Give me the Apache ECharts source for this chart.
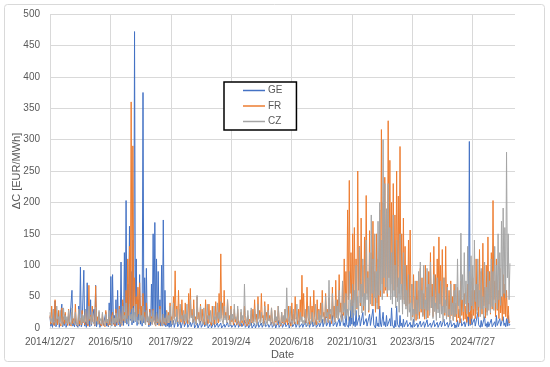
<!DOCTYPE html>
<html>
<head>
<meta charset="utf-8">
<script src="https://cdn.jsdelivr.net/npm/echarts@6/dist/echarts.min.js"></script>
<style>
html,body{margin:0;padding:0;background:#fff;}
#chart{width:550px;height:367px;}
</style>
</head>
<body>
<div id="chart"></div>
<script>
// Start date of the series and sampling step (days)
const START_DATE = [2014, 12, 27];
const STEP_DAYS = 14;
const AXIS_END_DAY = 3850;
const TICK_DAYS = 500;

const seriesNames = ['GE', 'FR', 'CZ'];

// ΔC [EUR/MWh]: peak value read in each STEP_DAYS window
const GE = [
  18, 8, 30, 43, 6, 25, 4, 38, 10, 22,
  5, 20, 3, 60, 8, 15, 2, 35, 97, 6,
  92, 10, 72, 25, 45, 5, 30, 68, 8, 20,
  5, 15, 3, 25, 8, 40, 82, 85, 20, 45,
  60, 15, 105, 40, 120, 203, 70, 162, 90, 140,
  472, 110, 45, 85, 30, 375, 80, 95, 15, 30,
  70, 150, 168, 110, 90, 45, 100, 172, 60, 15,
  8, 20, 3, 12, 2, 18, 5, 10, 2, 15,
  4, 12, 2, 9, 3, 14, 1, 8, 3, 11,
  2, 9, 4, 12, 1, 7, 3, 10, 2, 8,
  3, 8, 1, 6, 2, 9, 1, 5, 3, 7,
  2, 10, 1, 8, 3, 12, 2, 6, 1, 9,
  3, 7, 1, 10, 2, 8, 4, 11, 1, 6,
  2, 9, 3, 7, 1, 12, 2, 8, 3, 10,
  1, 8, 3, 14, 2, 9, 4, 11, 2, 7,
  3, 12, 1, 9, 4, 15, 2, 10, 3, 8,
  2, 14, 4, 18, 3, 12, 5, 20, 2, 10,
  5, 15, 3, 22, 8, 30, 4, 18, 40, 57,
  10, 28, 5, 20, 3, 25, 8, 15, 4, 22,
  6, 30, 3, 18, 8, 35, 2, 25, 10, 20,
  5, 15, 32, 4, 12, 35, 3, 20, 8, 14,
  4, 12, 2, 9, 5, 14, 2, 8, 3, 11,
  2, 10, 4, 13, 1, 8, 3, 12, 2, 9,
  3, 11, 2, 14, 4, 9, 1, 12, 3, 8,
  5, 12, 3, 15, 6, 10, 2, 18, 297, 22,
  8, 15, 4, 25, 6, 12, 3, 18, 7, 10,
  5, 14, 3, 10, 20, 6, 15, 4, 18, 8,
  15, 20, 6
];
// trough value read in the second half of each window
const GE_LOW = [
  3, 1, 4, 2, 5, 1, 3, 2, 4, 1,
  2, 4, 1, 3, 2, 5, 1, 3, 2, 4,
  3, 1, 5, 2, 4, 1, 3, 2, 5, 1,
  2, 4, 1, 3, 2, 5, 3, 6, 2, 4,
  5, 2, 8, 4, 10, 6, 3, 12, 5, 8,
  10, 4, 12, 6, 3, 8, 5, 10, 2, 4,
  6, 12, 8, 5, 10, 3, 7, 4, 2, 3,
  1, 2, 0, 1, 0, 2, 1, 0, 1, 2,
  0, 1, 0, 2, 1, 0, 1, 0, 2, 1,
  0, 2, 1, 0, 1, 0, 2, 1, 0, 1,
  1, 0, 0, 1, 0, 2, 0, 1, 0, 1,
  0, 1, 0, 2, 0, 1, 0, 0, 1, 0,
  1, 0, 2, 1, 0, 1, 0, 2, 0, 1,
  0, 1, 0, 0, 2, 1, 0, 1, 0, 2,
  1, 0, 1, 2, 0, 1, 0, 1, 0, 1,
  0, 2, 0, 1, 1, 2, 0, 1, 0, 2,
  1, 2, 0, 3, 1, 2, 0, 3, 1, 2,
  1, 3, 0, 4, 2, 5, 1, 3, 6, 4,
  2, 4, 1, 3, 0, 5, 2, 3, 1, 4,
  1, 5, 0, 3, 2, 6, 0, 4, 2, 3,
  1, 3, 5, 0, 2, 6, 1, 3, 1, 2,
  0, 2, 0, 1, 1, 2, 0, 1, 0, 2,
  0, 1, 1, 2, 0, 1, 0, 2, 0, 1,
  1, 2, 0, 3, 1, 1, 0, 2, 1, 0,
  1, 2, 0, 3, 1, 2, 0, 3, 4, 5,
  2, 3, 1, 5, 1, 2, 0, 3, 1, 2,
  1, 2, 0, 2, 4, 1, 3, 1, 4, 2,
  3, 4, 1
];
const FR = [
  20, 35, 12, 45, 15, 28, 10, 32, 18, 25,
  12, 30, 8, 25, 15, 38, 10, 22, 14, 28,
  15, 30, 10, 68, 20, 35, 12, 67, 18, 25,
  10, 22, 6, 28, 12, 18, 5, 25, 10, 30,
  15, 35, 12, 45, 25, 60, 110, 130, 360, 290,
  80, 50, 65, 72, 35, 55, 25, 40, 15, 30,
  18, 30, 10, 25, 12, 35, 8, 22, 15, 28,
  25, 40, 18, 50, 91, 35, 60, 30, 45, 20,
  40, 22, 55, 63, 30, 45, 18, 50, 25, 38,
  30, 15, 45, 20, 38, 12, 35, 18, 42, 25,
  55, 118, 40, 60, 25, 45, 20, 35, 15, 30,
  15, 30, 10, 25, 12, 35, 8, 20, 14, 28,
  30, 45, 22, 50, 28, 55, 20, 42, 25, 38,
  20, 32, 12, 28, 15, 35, 10, 25, 18, 30,
  15, 35, 10, 40, 22, 50, 18, 30, 45, 84,
  55, 25, 65, 20, 50, 35, 60, 18, 45, 30,
  40, 60, 25, 55, 30, 48, 22, 65, 35, 76,
  45, 85, 40, 70, 110, 90, 188, 235, 120, 150,
  160, 110, 250, 130, 175, 100, 145, 211, 90, 155,
  120, 170, 90, 150, 110, 188, 316, 200, 240, 180,
  330, 267, 200, 230, 180, 250, 210, 289, 150, 175,
  130, 100, 140, 156, 70, 85, 50, 75, 60, 95,
  80, 55, 100, 65, 90, 120, 70, 130, 85, 110,
  145, 100, 125, 80, 130, 70, 60, 75, 50, 70,
  40, 65, 30, 75, 45, 55, 35, 70, 25, 60,
  80, 60, 110, 70, 125, 90, 135, 65, 100, 145,
  90, 120, 203, 75, 110, 60, 95, 50, 85, 70,
  60, 35, 10
];
const FR_LOW = [
  6, 10, 4, 8, 5, 9, 3, 7, 6, 8,
  4, 8, 3, 7, 5, 10, 3, 6, 5, 8,
  5, 9, 3, 12, 6, 10, 4, 11, 6, 7,
  3, 6, 2, 8, 4, 5, 2, 7, 3, 9,
  5, 10, 4, 12, 8, 15, 20, 25, 30, 35,
  25, 18, 22, 20, 12, 18, 9, 14, 5, 10,
  6, 10, 3, 8, 4, 10, 3, 7, 5, 9,
  8, 12, 6, 15, 18, 10, 14, 9, 12, 6,
  12, 7, 15, 18, 9, 13, 6, 14, 8, 11,
  9, 5, 12, 7, 11, 4, 10, 6, 12, 8,
  15, 20, 12, 16, 8, 13, 6, 10, 5, 9,
  5, 9, 3, 8, 4, 10, 3, 6, 5, 8,
  10, 14, 8, 15, 9, 16, 7, 13, 8, 12,
  6, 10, 4, 9, 5, 11, 3, 8, 6, 9,
  5, 10, 3, 12, 7, 14, 6, 9, 13, 18,
  16, 8, 18, 6, 14, 10, 17, 5, 13, 9,
  12, 18, 8, 16, 9, 14, 7, 18, 10, 20,
  14, 25, 12, 20, 30, 25, 45, 55, 35, 40,
  45, 30, 60, 35, 50, 28, 40, 55, 25, 42,
  35, 48, 25, 40, 30, 50, 70, 55, 60, 50,
  80, 70, 55, 60, 48, 65, 55, 70, 40, 45,
  35, 28, 38, 40, 18, 22, 12, 20, 15, 25,
  20, 14, 28, 16, 24, 32, 18, 35, 22, 30,
  38, 26, 34, 20, 35, 18, 15, 20, 12, 18,
  10, 16, 8, 20, 12, 14, 9, 18, 6, 15,
  20, 15, 28, 18, 32, 22, 35, 16, 25, 38,
  22, 30, 45, 18, 28, 15, 24, 12, 22, 18,
  15, 8, 3
];
const CZ = [
  25, 15, 30, 12, 35, 18, 28, 10, 32, 20,
  18, 28, 12, 32, 15, 25, 10, 30, 16, 22,
  20, 30, 14, 35, 18, 26, 12, 33, 15, 28,
  15, 25, 10, 22, 14, 28, 9, 20, 16, 24,
  18, 30, 12, 35, 20, 40, 15, 38, 22, 32,
  25, 38, 15, 30, 20, 35, 12, 28, 18, 25,
  15, 28, 10, 25, 14, 30, 9, 22, 16, 26,
  20, 35, 12, 40, 18, 30, 14, 38, 20, 28,
  22, 38, 15, 45, 20, 30, 14, 52, 18, 35,
  15, 32, 10, 38, 20, 28, 12, 35, 18, 40,
  25, 42, 15, 35, 20, 45, 12, 30, 22, 38,
  18, 35, 12, 30, 20, 70, 15, 28, 10, 32,
  14, 30, 10, 38, 16, 25, 8, 35, 12, 28,
  15, 32, 10, 28, 18, 35, 12, 25, 20, 30,
  64, 20, 35, 12, 30, 15, 38, 10, 25, 18,
  12, 30, 8, 35, 15, 25, 10, 38, 14, 28,
  20, 40, 15, 50, 25, 76, 30, 55, 22, 45,
  35, 60, 25, 75, 40, 55, 30, 90, 45, 70,
  60, 100, 50, 129, 70, 110, 55, 140, 80, 120,
  180, 110, 150, 90, 170, 200, 140, 300, 230, 190,
  230, 160, 120, 180, 100, 140, 80, 150, 70, 120,
  100, 60, 85, 40, 70, 30, 75, 45, 90, 105,
  60, 100, 45, 95, 70, 105, 50, 85, 40, 80,
  55, 75, 35, 80, 45, 65, 30, 70, 40, 60,
  70, 110, 60, 151, 85, 120, 75, 130, 90, 115,
  100, 140, 70, 110, 60, 95, 50, 105, 65, 90,
  75, 110, 90, 130, 100, 150, 120, 170, 191, 160,
  280, 150, 103
];
const CZ_LOW = [
  10, 6, 12, 5, 14, 8, 11, 4, 13, 8,
  7, 11, 5, 13, 6, 10, 4, 12, 7, 9,
  8, 12, 6, 14, 7, 10, 5, 13, 6, 11,
  6, 10, 4, 9, 6, 11, 4, 8, 7, 10,
  7, 12, 5, 14, 8, 15, 6, 14, 9, 12,
  10, 14, 6, 12, 8, 13, 5, 11, 7, 10,
  6, 11, 4, 10, 6, 12, 4, 9, 7, 10,
  8, 13, 5, 15, 7, 12, 6, 14, 8, 11,
  9, 14, 6, 16, 8, 12, 6, 18, 7, 13,
  6, 12, 4, 14, 8, 11, 5, 13, 7, 15,
  10, 15, 6, 13, 8, 16, 5, 12, 9, 14,
  7, 13, 5, 12, 8, 20, 6, 11, 4, 12,
  6, 12, 4, 14, 7, 10, 3, 13, 5, 11,
  6, 12, 4, 11, 7, 13, 5, 10, 8, 12,
  18, 8, 13, 5, 12, 6, 14, 4, 10, 7,
  5, 12, 3, 13, 6, 10, 4, 14, 6, 11,
  8, 15, 6, 18, 10, 22, 12, 20, 9, 16,
  13, 22, 10, 25, 15, 20, 12, 28, 16, 24,
  20, 32, 18, 40, 24, 35, 20, 45, 28, 38,
  55, 35, 48, 30, 52, 60, 45, 80, 65, 55,
  60, 45, 38, 50, 32, 42, 25, 45, 22, 38,
  30, 18, 25, 12, 20, 10, 22, 14, 26, 30,
  18, 30, 14, 28, 20, 32, 15, 26, 12, 24,
  16, 22, 10, 24, 14, 20, 9, 21, 12, 18,
  22, 35, 18, 45, 26, 38, 22, 40, 28, 35,
  30, 42, 22, 34, 18, 30, 15, 32, 20, 28,
  24, 34, 28, 40, 30, 45, 36, 50, 55, 48,
  80, 45, 30
];

const colors = ['#4472C4', '#ED7D31', '#A5A5A5'];
const FONT = 'Liberation Sans, Arial, sans-serif';
const TEXT = '#595959';
const GRID = '#d9d9d9';

function dayLabel(v) {
  const t = Date.UTC(START_DATE[0], START_DATE[1] - 1, START_DATE[2]) + v * 86400000;
  const d = new Date(t);
  return d.getUTCFullYear() + '/' + (d.getUTCMonth() + 1) + '/' + d.getUTCDate();
}
// each window: peak at its start, trough at its middle
function toXY(peaks, lows) {
  const out = [];
  peaks.forEach((v, i) => {
    out.push([i * STEP_DAYS, v]);
    if (i < lows.length && i < peaks.length - 1) out.push([i * STEP_DAYS + STEP_DAYS / 2, lows[i]]);
  });
  return out;
}

const chart = echarts.init(document.getElementById('chart'), null, {renderer: 'canvas'});
const peakData = [GE, FR, CZ];
const lowData = [GE_LOW, FR_LOW, CZ_LOW];
const nSplit = Math.floor(AXIS_END_DAY / TICK_DAYS) + 1;
const splitColors = [];
for (let k = 0; k < nSplit; k++) splitColors.push(GRID);
splitColors.push('rgba(0,0,0,0)');

chart.setOption({
  animation: false,
  backgroundColor: '#fff',
  textStyle: {fontFamily: FONT},
  graphic: [{
    type: 'rect',
    shape: {x: 4.5, y: 4.5, width: 540, height: 357, r: 3},
    style: {fill: 'none', stroke: GRID, lineWidth: 1},
    silent: true, z: -10
  }],
  grid: {left: 50, right: 35, top: 14, bottom: 39, containLabel: false, outerBoundsMode: 'none'},
  legend: {
    orient: 'vertical',
    left: 224, top: 82,
    data: seriesNames,
    icon: 'rect',
    itemWidth: 22, itemHeight: 1.5, itemGap: 5.5,
    padding: [3.5, 14, 3.5, 19],
    borderColor: '#000', borderWidth: 1.5,
    backgroundColor: '#fff',
    textStyle: {color: TEXT, fontSize: 10, lineHeight: 10, fontFamily: FONT, padding: [0, 0, 0, -2]}
  },
  xAxis: {
    type: 'value',
    min: 0, max: AXIS_END_DAY, interval: TICK_DAYS,
    name: 'Date', nameLocation: 'middle', nameGap: 21, nameMoveOverlap: false,
    nameTextStyle: {color: TEXT, fontSize: 11, fontFamily: FONT},
    axisLine: {show: true, lineStyle: {color: GRID, width: 1}},
    axisTick: {show: false},
    axisLabel: {color: TEXT, fontSize: 10, fontFamily: FONT, margin: 9, showMaxLabel: false, formatter: dayLabel},
    splitLine: {show: true, lineStyle: {color: splitColors, width: 1}}
  },
  yAxis: {
    type: 'value',
    min: 0, max: 500, interval: 50,
    name: 'ΔC [EUR/MWh]', nameLocation: 'middle', nameGap: 28, nameMoveOverlap: false,
    nameTextStyle: {color: TEXT, fontSize: 11, fontFamily: FONT},
    axisLine: {show: false},
    axisTick: {show: false},
    axisLabel: {color: TEXT, fontSize: 10, fontFamily: FONT, margin: 10},
    splitLine: {show: true, lineStyle: {color: GRID, width: 1}}
  },
  series: seriesNames.map((n, k) => ({
    name: n,
    type: 'line',
    data: toXY(peakData[k], lowData[k]),
    symbol: 'none',
    showSymbol: false,
    lineStyle: {color: colors[k], width: 1},
    itemStyle: {color: colors[k]},
    z: 2 + k
  }))
});
</script>
</body>
</html>
